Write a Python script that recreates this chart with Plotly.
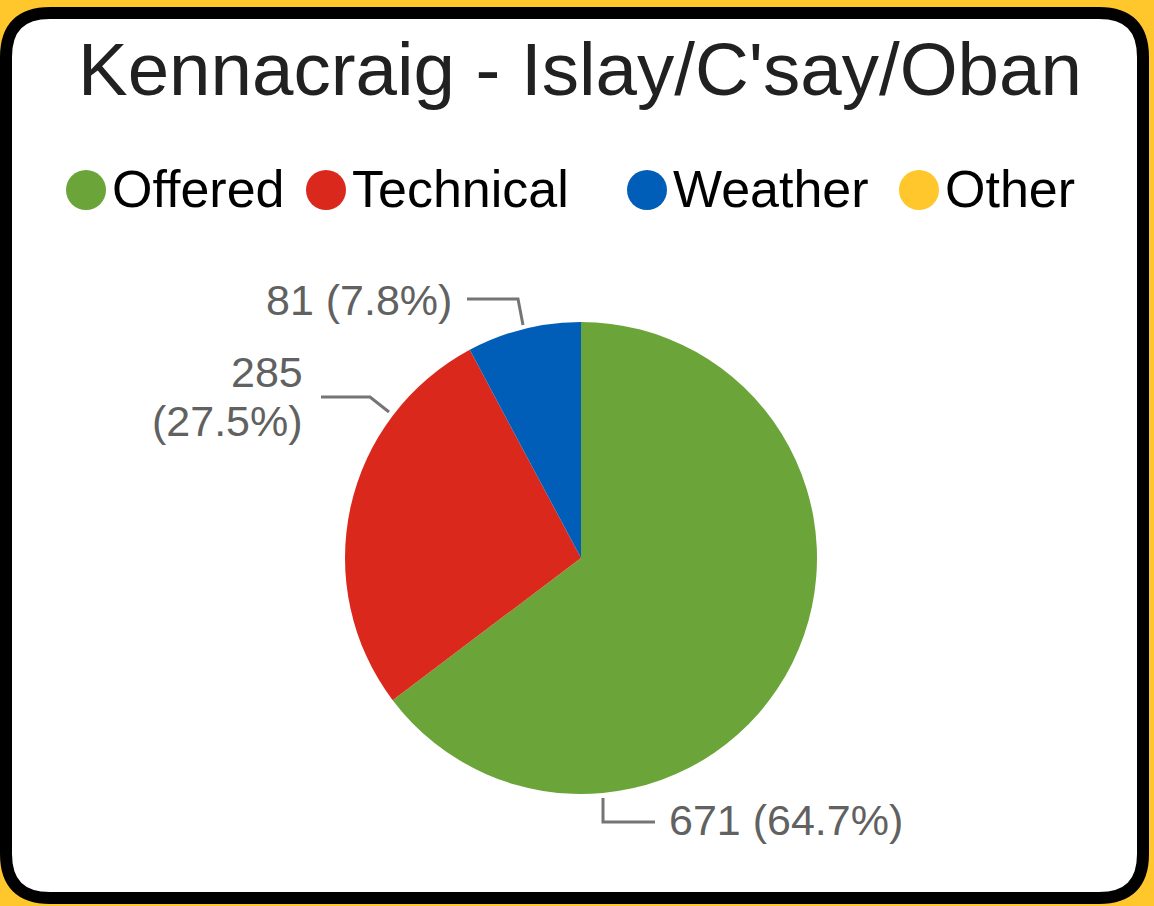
import plotly.graph_objects as go

# ---- data ----
categories = ["Offered", "Technical", "Weather", "Other"]
values = [671, 285, 81, 0]
colors = ["#6BA539", "#DA291C", "#005EB8", "#FFC72C"]
title_text = "Kennacraig - Islay/C'say/Oban"

W, H = 1154, 906
FONT = "Liberation Sans, Arial, sans-serif"


def px(x):
    return x / W


def py(y):
    return 1 - y / H


total = sum(values)
pct = [v / total * 100 for v in values]

fig = go.Figure()
fig.add_trace(go.Pie(
    labels=categories,
    values=values,
    marker=dict(colors=colors, line=dict(width=0)),
    sort=False,
    direction="clockwise",
    rotation=0,
    textinfo="none",
    hoverinfo="label+value+percent",
    showlegend=False,
    domain=dict(x=[px(345), px(817)], y=[py(794), py(322)]),
))

shapes = []
# rounded frame
x0, y0, x1, y1, r = 6, 13, 1143, 898, 44
path = (
    f"M {px(x0 + r)},{py(y0)} L {px(x1 - r)},{py(y0)} "
    f"Q {px(x1)},{py(y0)} {px(x1)},{py(y0 + r)} "
    f"L {px(x1)},{py(y1 - r)} Q {px(x1)},{py(y1)} {px(x1 - r)},{py(y1)} "
    f"L {px(x0 + r)},{py(y1)} Q {px(x0)},{py(y1)} {px(x0)},{py(y1 - r)} "
    f"L {px(x0)},{py(y0 + r)} Q {px(x0)},{py(y0)} {px(x0 + r)},{py(y0)} Z"
)
shapes.append(dict(type="path", xref="paper", yref="paper", path=path,
                   fillcolor="white", line=dict(color="black", width=12), layer="below"))

annotations = []
annotations.append(dict(text=title_text, x=px(580), y=py(69), xref="paper", yref="paper",
                        xanchor="center", yanchor="middle", showarrow=False,
                        font=dict(family=FONT, size=74.5, color="#212121")))

# legend (circles + labels)
legend_cx = [86, 326, 647, 919]
legend_cy = 190
for cat, col, cx in zip(categories, colors, legend_cx):
    rr = 20
    shapes.append(dict(type="circle", xref="paper", yref="paper",
                       x0=px(cx - rr), x1=px(cx + rr), y0=py(legend_cy + rr), y1=py(legend_cy - rr),
                       fillcolor=col, line=dict(width=0)))
    annotations.append(dict(text=cat, x=px(cx + 24), y=py(legend_cy - 1), xref="paper", yref="paper",
                            xanchor="left", yanchor="middle", showarrow=False,
                            font=dict(family=FONT, size=52, color="#000000")))

# slice labels
LBL = dict(family=FONT, size=43, color="#616161")
annotations.append(dict(text=f"{values[2]} ({pct[2]:.1f}%)", x=px(454), y=py(300), xref="paper", yref="paper",
                        xanchor="right", yanchor="middle", showarrow=False, font=LBL))
annotations.append(dict(text=f"{values[1]}", x=px(305), y=py(372), xref="paper", yref="paper",
                        xanchor="right", yanchor="middle", showarrow=False, font=LBL))
annotations.append(dict(text=f"({pct[1]:.1f}%)", x=px(305), y=py(421), xref="paper", yref="paper",
                        xanchor="right", yanchor="middle", showarrow=False, font=LBL))
annotations.append(dict(text=f"{values[0]} ({pct[0]:.1f}%)", x=px(667), y=py(820), xref="paper", yref="paper",
                        xanchor="left", yanchor="middle", showarrow=False, font=LBL))

# leader lines
LEAD = dict(color="#757575", width=3)
leaders = [
    [(467, 299), (518, 299), (523, 325)],
    [(321, 397), (370, 397), (389, 412)],
    [(603, 798), (603, 822), (655, 822)],
]
for pts in leaders:
    p = "M " + " L ".join(f"{px(a)},{py(b)}" for a, b in pts)
    shapes.append(dict(type="path", xref="paper", yref="paper", path=p, line=LEAD))

fig.update_layout(
    width=W, height=H,
    margin=dict(l=0, r=0, t=0, b=0),
    paper_bgcolor="#FFC72C",
    plot_bgcolor="#FFC72C",
    shapes=shapes,
    annotations=annotations,
    showlegend=False,
)

fig.write_html("out.html", config={"displayModeBar": False},
               post_script="document.body.style.margin='0';document.body.style.overflow='hidden';")
